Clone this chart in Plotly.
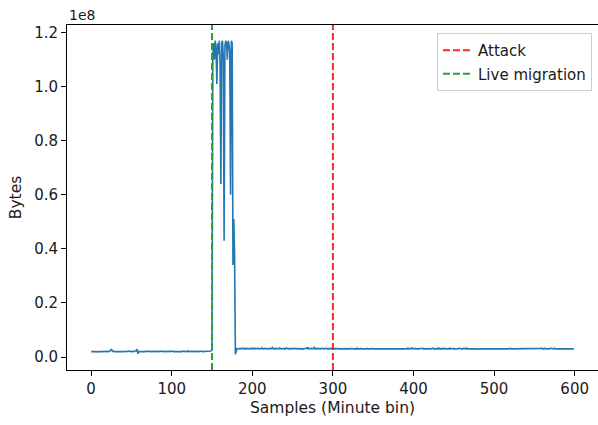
import plotly.graph_objects as go

# Bytes per minute bin, in millions
pre_migration = [
    2.0, 2.1, 2.0, 2.0, 2.1, 2.0, 1.9, 2.0, 2.1, 2.0, 2.0, 2.1, 2.0, 2.0, 1.9, 2.0, 2.1, 2.0, 2.0, 2.1,
    2.0, 2.1, 2.0, 2.2, 2.3, 2.9, 2.2, 2.0, 2.1, 2.0, 2.0, 1.9, 2.0, 2.1, 2.0, 2.0, 2.1, 2.0, 2.0, 2.0,
    2.1, 2.0, 2.0, 1.9, 2.0, 2.1, 2.2, 2.0, 2.0, 2.1, 2.0, 2.0, 2.1, 2.0, 2.2, 2.1, 2.2, 2.9, 1.2, 2.0,
    2.1, 2.0, 2.0, 2.1, 2.0, 2.0, 1.9, 2.0, 2.1, 2.0, 2.2, 2.0, 2.0, 2.1, 2.0, 2.0, 2.1, 2.0, 1.9, 2.0,
    2.1, 2.0, 2.0, 2.1, 2.0, 2.0, 2.2, 2.0, 2.0, 2.1, 2.0, 1.9, 2.0, 2.1, 2.0, 2.0, 2.1, 2.0, 2.0, 2.2,
    2.0, 2.1, 2.0, 2.0, 1.9, 2.0, 2.1, 2.0, 2.0, 2.1, 2.0, 2.0, 2.1, 2.0, 2.2, 2.0, 2.0, 2.1, 2.0, 2.0,
    2.3, 2.0, 2.1, 2.0, 2.0, 2.1, 2.0, 1.9, 2.0, 2.1, 2.0, 2.0, 2.1, 2.0, 2.0, 2.2, 2.0, 2.1, 2.0, 2.0,
    2.1, 2.0, 2.0, 2.1, 2.0, 2.2, 2.0, 2.1, 2.2, 2.3,
]
migration_burst = [
    2.6, 112, 116, 110, 117, 114, 101, 116, 112, 117, 108, 64, 116, 117, 111, 43,
    115, 117, 116, 110, 117, 116, 113, 60, 117, 116, 34, 51, 38, 1.0, 2.6, 3.1,
]
post_migration = [
    3.0, 3.1, 3.0, 3.2, 3.1, 3.0, 3.1, 3.3, 3.0, 3.1, 3.0, 3.2, 3.1, 3.0, 3.1, 3.0, 3.2, 3.1,
    3.0, 3.1, 3.3, 3.0, 3.1, 3.0, 3.1, 3.2, 3.0, 3.1, 3.0, 3.1, 3.4, 3.0, 3.1, 3.0, 3.2, 3.1, 3.0, 3.1,
    3.0, 3.2, 3.1, 3.0, 3.1, 3.5, 3.0, 3.1, 3.0, 3.2, 3.1, 3.0, 3.1, 3.0, 3.3, 3.1, 3.0, 3.1, 3.2, 3.0,
    3.1, 3.0, 3.4, 3.1, 3.0, 3.1, 3.0, 3.2, 3.1, 3.0, 3.1, 3.0, 3.3, 3.1, 3.0, 3.1, 3.2, 3.0, 3.1, 3.0,
    3.1, 3.0, 3.2, 3.1, 3.0, 3.1, 3.0, 3.3, 3.1, 3.6, 3.0, 3.1, 3.0, 3.2, 3.1, 3.0, 3.1, 3.5, 3.0, 3.1,
    3.0, 3.2, 3.1, 3.0, 3.1, 3.0, 3.2, 3.1, 3.0, 3.1, 3.0, 3.3, 3.1, 3.0, 3.1, 3.0, 3.2, 3.1, 3.0, 3.1,
    3.0, 3.1, 3.0, 3.2, 3.1, 3.0, 3.1, 3.0, 3.1, 2.9, 3.0, 3.1, 3.0, 3.0, 3.1, 2.9, 3.0, 3.1, 3.0, 3.0,
    3.1, 3.0, 3.0, 3.2, 3.0, 3.0, 3.1, 2.9, 3.0, 3.0, 3.3, 3.0, 3.1, 3.0, 3.0, 3.2, 3.0, 3.1, 3.0, 3.0,
    3.1, 3.0, 3.0, 3.2, 3.0, 3.1, 3.0, 3.0, 3.1, 3.2, 3.0, 3.0, 3.1, 3.0, 3.0, 3.1, 3.2, 3.0, 3.0, 3.1,
    3.0, 3.0, 3.1, 3.0, 3.2, 3.0, 3.0, 3.1, 3.0, 3.0, 3.1, 3.0, 3.0, 3.2, 3.0, 3.1, 3.0, 3.0, 3.1, 3.0,
    3.2, 3.0, 3.1, 3.0, 3.0, 3.1, 3.0, 3.0, 3.2, 3.0, 3.1, 3.0, 3.0, 3.3, 3.0, 3.1, 3.0, 3.2, 3.4, 3.0,
    3.1, 3.0, 3.2, 3.0, 3.1, 3.0, 3.0, 3.2, 3.0, 3.1, 3.0, 3.3, 3.0, 3.1, 3.0, 3.0, 3.2, 3.0, 3.1, 3.0,
    3.0, 3.2, 3.0, 3.1, 3.3, 3.0, 3.0, 3.1, 3.0, 3.2, 3.0, 3.4, 3.0, 3.1, 3.0, 3.0, 3.2, 3.0, 3.1, 3.0,
    3.2, 3.0, 3.1, 3.0, 3.0, 3.3, 3.0, 3.1, 3.0, 3.2, 3.0, 3.0, 3.1, 3.0, 3.2, 3.0, 3.1, 3.3, 3.0, 3.0,
    3.1, 3.0, 3.2, 3.0, 3.1, 3.0, 3.3, 3.0, 3.0, 3.1, 3.0, 3.2, 3.0, 3.1, 3.0, 3.0, 3.2, 3.0, 3.1, 3.0,
    2.9, 3.0, 3.1, 3.0, 3.0, 3.1, 2.9, 3.0, 3.0, 3.1, 3.0, 3.0, 2.9, 3.0, 3.1, 3.0, 3.0, 3.1, 3.0, 3.0,
    3.1, 3.0, 2.9, 3.0, 3.0, 3.1, 3.0, 3.0, 2.9, 3.1, 3.0, 3.0, 3.1, 3.0, 3.0, 2.9, 3.0, 3.1, 3.0, 3.2,
    3.0, 3.1, 3.0, 3.0, 3.2, 3.0, 3.1, 3.0, 3.0, 3.2, 3.0, 3.1, 3.0, 3.0, 3.1, 3.2, 3.0, 3.0, 3.1, 3.0,
    3.2, 3.0, 3.1, 3.0, 3.0, 3.2, 3.0, 3.1, 3.0, 3.2, 3.0, 3.0, 3.1, 3.2, 3.0, 3.1, 3.0, 3.0, 3.2, 3.3,
    3.0, 3.1, 3.0, 3.2, 3.0, 3.1, 3.0, 3.0, 3.2, 3.0, 3.3, 3.1, 3.0, 3.0, 3.2, 3.0, 3.1, 3.0, 3.0, 3.2,
    3.0, 3.1, 3.0, 3.2, 3.0, 3.1, 3.0, 3.0, 3.2, 3.0, 3.1, 3.0, 3.0, 3.1, 3.0, 3.0, 3.2, 3.0, 3.1, 3.0,
]

attack_sample = 300
migration_sample = 150
y_tick_values = [0.0, 0.2, 0.4, 0.6, 0.8, 1.0, 1.2]   # in units of 1e8
y_tick_labels = ["0.0", "0.2", "0.4", "0.6", "0.8", "1.0", "1.2"]
x_tick_values = [0, 100, 200, 300, 400, 500, 600]

bytes_m = pre_migration + migration_burst + post_migration
values = [v * 1e6 for v in bytes_m]
samples = list(range(len(values)))

FONT = "DejaVu Sans"
TEXT = "#1a1a1a"
BLUE = "#1f77b4"
RED = "rgba(255,0,0,0.85)"
GREEN = "#2ca02c"
DASH = "7px,3px"
FS = 15

# matplotlib-like 5% auto margins (right edge falls on the cropped image border)
xmin, xmax = samples[0], samples[-1]
xpad = (xmax - xmin) * 0.05
ymin, ymax = min(values), max(values)
ypad = (ymax - ymin) * 0.05

fig = go.Figure()
fig.add_trace(go.Scatter(x=samples, y=values, mode="lines",
                         line=dict(color=BLUE, width=1.6), showlegend=False,
                         hoverinfo="skip"))
fig.add_trace(go.Scatter(x=[None], y=[None], mode="lines", name="Attack", legendgroup="a",
                         line=dict(color=RED, width=2, dash=DASH)))
fig.add_trace(go.Scatter(x=[None], y=[None], mode="lines", name="Live migration", legendgroup="b",
                         line=dict(color=GREEN, width=2, dash=DASH)))

fig.add_shape(type="line", xref="x", yref="paper", x0=migration_sample, x1=migration_sample,
              y0=0, y1=1, line=dict(color=GREEN, width=2, dash=DASH))
fig.add_shape(type="line", xref="x", yref="paper", x0=attack_sample, x1=attack_sample,
              y0=0, y1=1, line=dict(color=RED, width=2, dash=DASH))

fig.add_annotation(text="1e8", xref="paper", yref="paper", x=0, y=1,
                   xanchor="left", yanchor="bottom", showarrow=False,
                   font=dict(family=FONT, size=14, color=TEXT), yshift=0)

fig.update_layout(
    width=598, height=425,
    margin=dict(l=67, r=0, t=25, b=55),
    paper_bgcolor="white", plot_bgcolor="white",
    font=dict(family=FONT, size=FS, color=TEXT),
    legend=dict(x=0.9887, y=0.977, xanchor="right", yanchor="top",
                bgcolor="rgba(255,255,255,0.9)", bordercolor="#cccccc", borderwidth=1,
                font=dict(family=FONT, size=FS, color=TEXT), tracegroupgap=1, itemwidth=30),
)
fig.update_xaxes(range=[xmin - xpad, xmax + xpad], tickvals=x_tick_values,
                 showgrid=False, zeroline=False, showline=True, linecolor="black",
                 linewidth=1, mirror=True, ticks="outside", ticklen=5, tickcolor="black",
                 tickfont=dict(size=FS),
                 title=dict(text="Samples (Minute bin)", standoff=5, font=dict(size=15.5)))
fig.update_yaxes(range=[ymin - ypad, ymax + ypad], tickvals=[v * 1e8 for v in y_tick_values],
                 ticktext=y_tick_labels,
                 showgrid=False, zeroline=False, showline=True, linecolor="black",
                 linewidth=1, mirror=True, ticks="outside", ticklen=5, tickcolor="black",
                 tickfont=dict(size=FS),
                 title=dict(text="Bytes", standoff=8, font=dict(size=15.5)))

fig.write_html("out.html", config={"displayModeBar": False},
               post_script="document.body.style.margin='0';document.body.style.overflow='hidden';")
